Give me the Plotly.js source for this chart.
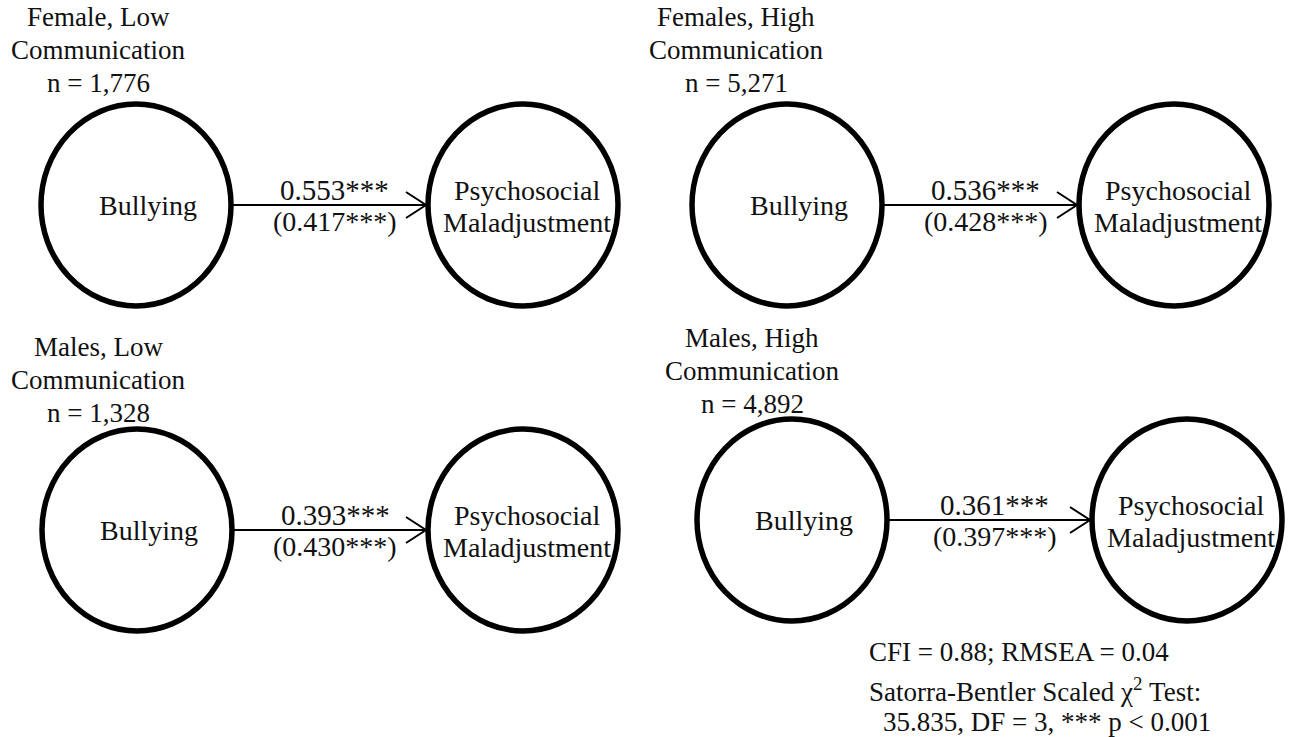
<!DOCTYPE html>
<html>
<head>
<meta charset="utf-8">
<script src="https://cdn.plot.ly/plotly-3.0.1.min.js"></script>
<style>html,body{margin:0;padding:0;background:#fff;}#chart{width:1290px;height:737px;}</style>
</head>
<body>
<div id="chart"></div>
<script>
// ---- data ----
const groupSex = ["Female", "Females", "Males", "Males"];
const groupComm = ["Low", "High", "Low", "High"];
const groupN = ["1,776", "5,271", "1,328", "4,892"];
const pathCoef = ["0.553***", "0.536***", "0.393***", "0.361***"];
const pathCoefStd = ["(0.417***)", "(0.428***)", "(0.430***)", "(0.397***)"];
const nodeFrom = "Bullying";
const nodeTo = ["Psychosocial", "Maladjustment"];
const fitLines = [
  "CFI = 0.88; RMSEA = 0.04",
  "Satorra-Bentler Scaled \u03c7<sup>2</sup> Test:",
  "35.835, DF = 3, *** p < 0.001"
];

// ---- layout geometry (pixels) ----
const panels = [
  {cx1: 136, cx2: 523, cy: 205, lx: 98, ly: 17},
  {cx1: 787, cx2: 1174, cy: 205, lx: 736, ly: 17},
  {cx1: 137, cx2: 523, cy: 530, lx: 98, ly: 347},
  {cx1: 792, cx2: 1187, cy: 520, lx: 752, ly: 338}
];
const rx = 95, ry = 101;
const FONT = "Liberation Serif, Times New Roman, serif";
const COL = "#111";

const shapes = [];
const annotations = [];
function txt(x, y, t, size, xanchor) {
  annotations.push({x: x, y: y, xref: "x", yref: "y", text: t, showarrow: false,
    xanchor: xanchor || "center", yanchor: "middle",
    font: {family: FONT, size: size, color: COL}});
}

panels.forEach((p, i) => {
  // ellipses
  [p.cx1, p.cx2].forEach(cx => {
    shapes.push({type: "circle", xref: "x", yref: "y",
      x0: cx - rx, x1: cx + rx, y0: p.cy - ry, y1: p.cy + ry,
      line: {color: "#000", width: 5.5}});
  });
  // arrow
  const xs = p.cx1 + rx, xe = p.cx2 - rx - 2;
  shapes.push({type: "line", xref: "x", yref: "y", x0: xs, x1: xe, y0: p.cy, y1: p.cy,
    line: {color: "#000", width: 2}});
  shapes.push({type: "path", xref: "x", yref: "y",
    path: `M ${xe - 20} ${p.cy - 13} L ${xe} ${p.cy} L ${xe - 20} ${p.cy + 13}`,
    line: {color: "#000", width: 2}});
  // group label
  txt(p.lx, p.ly, groupSex[i] + ", " + groupComm[i], 27);
  txt(p.lx, p.ly + 33, "Communication", 27);
  txt(p.lx, p.ly + 66, "n = " + groupN[i], 27);
  // node labels
  txt(p.cx1 + 12, p.cy, nodeFrom, 28);
  txt(p.cx2 + 4, p.cy - 15, nodeTo[0], 28);
  txt(p.cx2 + 4, p.cy + 17, nodeTo[1], 28);
  // coefficients
  const mx = (xs + xe) / 2 + 6;
  txt(mx, p.cy - 15, pathCoef[i], 29);
  txt(mx, p.cy + 16, pathCoefStd[i], 28);
});

// fit statistics
txt(867, 652, fitLines[0], 27, "left");
txt(867, 690, fitLines[1], 27, "left");
txt(881, 722, fitLines[2], 27, "left");

const data = [{x: [0, 1290], y: [0, 737], type: "scatter", mode: "markers",
  marker: {opacity: 0}, hoverinfo: "skip", showlegend: false}];

const layout = {
  width: 1290, height: 737,
  margin: {l: 0, r: 0, t: 0, b: 0},
  paper_bgcolor: "#fff", plot_bgcolor: "#fff",
  xaxis: {range: [0, 1290], visible: false, fixedrange: true},
  yaxis: {range: [737, 0], visible: false, fixedrange: true},
  shapes: shapes,
  annotations: annotations,
  showlegend: false
};
Plotly.newPlot("chart", data, layout, {staticPlot: true, displayModeBar: false});
</script>
</body>
</html>
